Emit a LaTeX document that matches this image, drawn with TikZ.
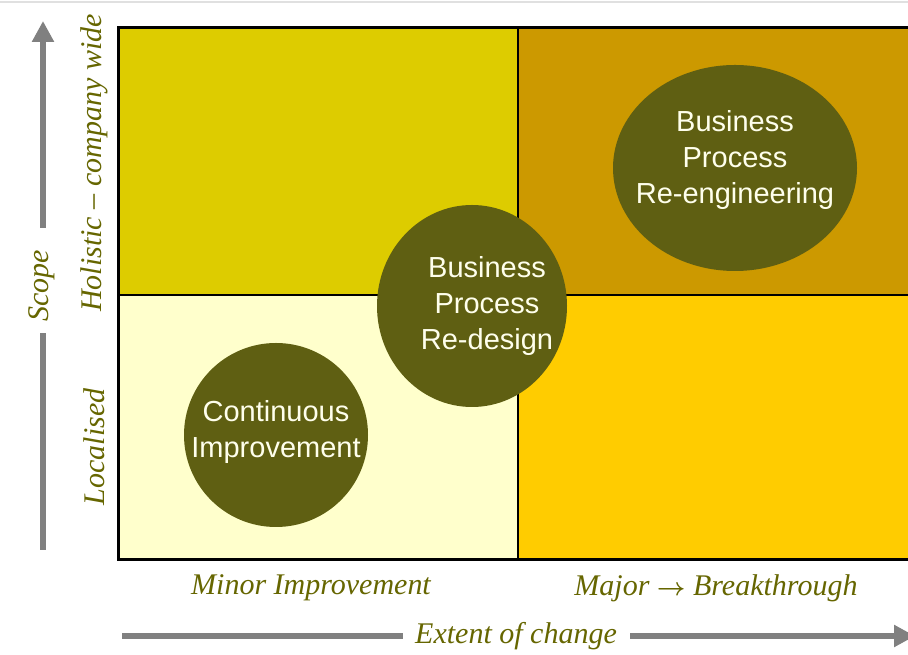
\documentclass[tikz,border=0pt]{standalone}
\usepackage{fontspec}
\setmainfont{Liberation Serif}
\newfontfamily\circfont{Liberation Sans}
\usetikzlibrary{arrows.meta}
\definecolor{qtl}{HTML}{DDCC00}
\definecolor{qtr}{HTML}{CC9900}
\definecolor{qbl}{HTML}{FFFFCC}
\definecolor{qbr}{HTML}{FFCC00}
\definecolor{blob}{HTML}{5F5F12}
\definecolor{blobtext}{HTML}{FFFFEC}
\definecolor{axistext}{HTML}{666600}
\definecolor{arrowgray}{HTML}{808080}
\tikzset{
  blobtxt/.style={text=blobtext, align=center, font=\circfont\fontsize{29}{36}\selectfont, inner sep=0pt},
  axislabel/.style={text=axistext, font=\fontsize{30}{34}\selectfont\itshape, inner sep=0pt},
  grayshaft/.style={draw=arrowgray, line width=6pt},
  grayarrow/.style={grayshaft, -{Triangle[length=21pt,width=21pt]}},
}
\begin{document}
\begin{tikzpicture}[x=1pt,y=1pt]
\useasboundingbox (0,0) rectangle (908,655);
\fill[white] (0,0) rectangle (908,655);
\draw[black!12, line width=2pt] (0,653) -- (908,653);
\begin{scope}
\clip (0,0) rectangle (908,655);
% quadrants
\fill[qtl] (118,360) rectangle (518,627);
\fill[qtr] (518,360) rectangle (915,627);
\fill[qbl] (118,95) rectangle (518,360);
\fill[qbr] (518,95) rectangle (915,360);
\draw[black, line width=1.5pt] (518,95) -- (518,627);
\draw[black, line width=1.5pt] (118,360) -- (915,360);
\draw[black, line width=3pt] (915,627) -- (118,627) -- (118,95) -- (915,95);
% blobs
\fill[blob] (276,220) circle [radius=92];
\fill[blob] (472,349) ellipse [x radius=95, y radius=101];
\fill[blob] (735,487) ellipse [x radius=122, y radius=103];
\node[blobtxt] (ci) at (276,223) {Continuous\\Improvement};
\node[blobtxt] (bpd) at (487,349) {Business\\Process\\Re-design};
\node[blobtxt] (bpr) at (735,495) {Business\\Process\\Re-engineering};
% axes
\coordinate (vb) at (43,105);
\coordinate (vt) at (43,634);
\coordinate (hl) at (122,19);
\coordinate (hr) at (915,19);
\node[axislabel, rotate=90] (scope) at (42,369) {Scope};
\node[axislabel, rotate=90] (holistic) at (94,492) {Holistic -- company wide};
\node[axislabel, rotate=90] (local) at (94,208) {Localised};
\node[axislabel] (extent) at (516,19) {Extent of change};
\node[axislabel] (minor) at (311,67) {Minor Improvement};
\node[axislabel] (major) at (716,67) {Major {\normalfont\boldmath$\rightarrow$} Breakthrough};
\draw[grayshaft] (vb) -- (43,322);
\draw[grayarrow] (43,427) -- (vt);
\draw[grayshaft] (hl) -- (403,19);
\draw[grayarrow] (630,19) -- (hr);
\end{scope}
\end{tikzpicture}
\end{document}
